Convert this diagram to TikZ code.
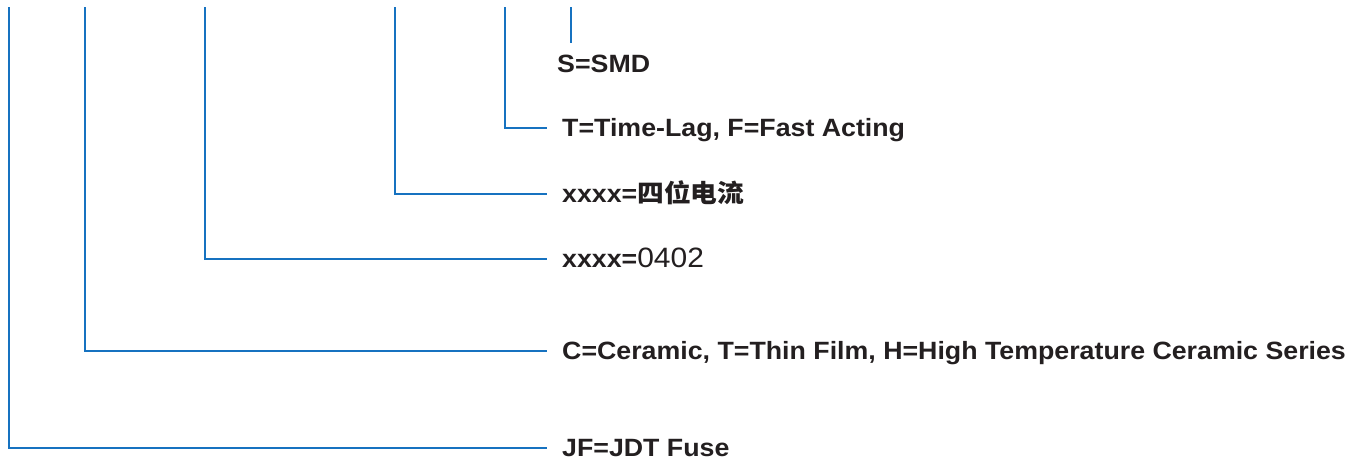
\documentclass[tikz,border=0pt]{standalone}
\usepackage{fontspec}
\setmainfont{Liberation Sans}[FakeStretch=1.07]
\newfontfamily\cjk{Noto Sans CJK SC}[FakeStretch=1.07]
\definecolor{lineblue}{RGB}{22,114,192}
\definecolor{txt}{RGB}{35,31,32}
\begin{document}
\begin{tikzpicture}[x=1pt,y=-1pt,
  lead/.style={draw=lineblue,line width=2.6pt},
  lbl/.style={anchor=west,inner xsep=15pt,inner ysep=0pt,text height=17pt,text depth=0pt,text=txt,font=\fontsize{25}{25}\selectfont\bfseries}]
\useasboundingbox (0,0) rectangle (1360,463);
\coordinate (t1) at (9,7);
\coordinate (t2) at (85,7);
\coordinate (t3) at (205,7);
\coordinate (t4) at (395,7);
\coordinate (t5) at (505,7);
\coordinate (t6) at (571,7);
\coordinate (e6) at (571,43);
\node[lbl] (s) at (542,64) {S=SMD};
\node[lbl] (l5) at (547,128) {T=Time-Lag, F=Fast Acting};
\node[lbl] (l4) at (547,194) {xxxx={\cjk 四位电流}};
\node[lbl] (l3) at (547,259) {xxxx={\mdseries\fontsize{28}{28}\selectfont 0402}};
\node[lbl] (l2) at (547,351) {C=Ceramic, T=Thin Film, H=High Temperature Ceramic Series};
\node[lbl] (l1) at (547,448) {JF=JDT Fuse};
\draw[lead] (t1) |- (l1.west);
\draw[lead] (t2) |- (l2.west);
\draw[lead] (t3) |- (l3.west);
\draw[lead] (t4) |- (l4.west);
\draw[lead] (t5) |- (l5.west);
\draw[lead] (t6) -- (e6);
\end{tikzpicture}
\end{document}
